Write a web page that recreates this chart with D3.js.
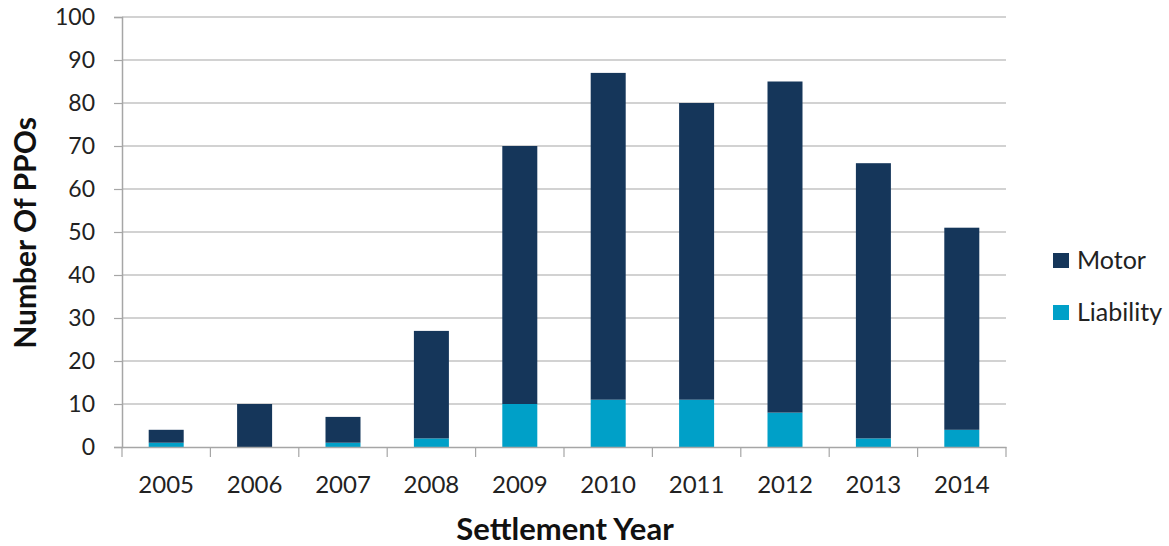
<!DOCTYPE html>
<html><head><meta charset="utf-8">
<script src="https://cdn.jsdelivr.net/npm/d3@7"></script>
<style>body{margin:0;background:#fff}svg{display:block}</style>
</head><body>
<svg id="chart" width="1169" height="546"></svg>
<script>
const years = ["2005","2006","2007","2008","2009","2010","2011","2012","2013","2014"];
const liability = [1,0,1,2,10,11,11,8,2,4];
const motor = [3,10,6,25,60,76,69,77,64,47];
const yTicks = [0,10,20,30,40,50,60,70,80,90,100];
const seriesNames = ["Liability","Motor"];
const colors = {Motor:"#15365a", Liability:"#00a0c8"};

const rows = years.map((y,i)=>({year:y, Liability:liability[i], Motor:motor[i]}));
const stack = d3.stack().keys(seriesNames)(rows);

const svg = d3.select("#chart");
const font = "Lato, 'Open Sans', sans-serif";
const m = {l:122, r:1006, t:17, b:447};
const xOuter = d3.scaleBand().domain(years).range([m.l, m.r]);
const y = d3.scaleLinear().domain([0,100]).range([m.b, m.t]);
const barW = 35;

// gridlines
svg.append("g").selectAll("line").data(yTicks.slice(1)).join("line")
  .attr("x1", m.l).attr("x2", m.r).attr("y1", d=>y(d)).attr("y2", d=>y(d))
  .attr("stroke", "#a6a6a6").attr("stroke-width", 1.2);

// bars
svg.append("g").selectAll("g").data(stack).join("g")
  .attr("fill", d=>colors[d.key])
  .selectAll("rect").data(d=>d).join("rect")
  .attr("x", d=>xOuter(d.data.year) + (xOuter.bandwidth()-barW)/2)
  .attr("width", barW)
  .attr("y", d=>y(d[1]))
  .attr("height", d=>y(d[0])-y(d[1]));

// y axis
const yAxis = d3.axisLeft(y).tickValues(yTicks).tickSize(8).tickPadding(19);
const gy = svg.append("g").attr("transform", `translate(${m.l},0)`).call(yAxis);
gy.select(".domain").attr("stroke", "#a6a6a6").attr("stroke-width", 1.5);
gy.selectAll(".tick line").attr("stroke", "#a6a6a6").attr("stroke-width", 1.2);
gy.selectAll("text").attr("font-family", font).attr("font-size", 23).attr("fill", "#222");

// x axis
const xAxis = d3.axisBottom(xOuter).tickSize(0);
const gx = svg.append("g").attr("transform", `translate(0,${m.b})`).call(xAxis);
gx.select(".domain").attr("stroke", "#a6a6a6").attr("stroke-width", 1.5);
gx.selectAll("text").attr("y", 46).attr("dy", null)
  .attr("font-family", font).attr("font-size", 24).attr("fill", "#222");
// category separator ticks
const seps = years.map(d=>xOuter(d)).concat([m.r]);
svg.append("g").selectAll("line").data(seps).join("line")
  .attr("x1", d=>d).attr("x2", d=>d).attr("y1", m.b).attr("y2", m.b+10)
  .attr("stroke", "#a6a6a6").attr("stroke-width", 1.2);

// axis titles
svg.append("text").attr("x", (m.l+m.r)/2+1).attr("y", 540).attr("text-anchor","middle")
  .attr("font-family", font).attr("font-weight","bold").attr("font-size", 31).attr("fill","#111")
  .text("Settlement Year");
svg.append("text").attr("transform", `translate(36,233) rotate(-90)`).attr("text-anchor","middle")
  .attr("font-family", font).attr("font-weight","bold").attr("font-size", 30).attr("fill","#111")
  .text("Number Of PPOs");

// legend
const legend = [{name:"Motor", y:269},{name:"Liability", y:321}];
const lg = svg.append("g").selectAll("g").data(legend).join("g");
lg.append("rect").attr("x",1053).attr("y",d=>d.y-16).attr("width",16).attr("height",15).attr("fill",d=>colors[d.name]);
lg.append("text").attr("x",1077).attr("y",d=>d.y).attr("font-family",font).attr("font-size",25).attr("fill","#222").text(d=>d.name);
</script>
</body></html>
